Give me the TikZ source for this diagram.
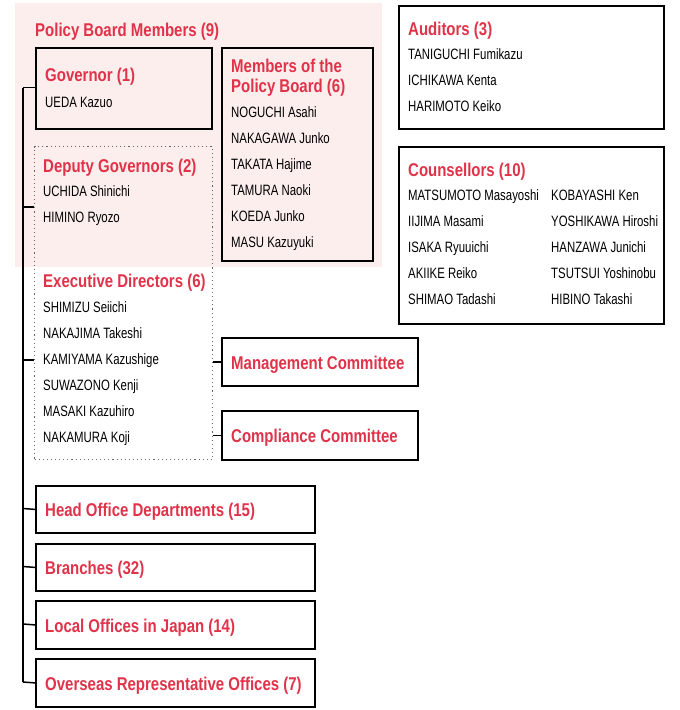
\documentclass[tikz,border=0pt]{standalone}
\usepackage{fontspec}
\setmainfont{Liberation Sans}[FakeStretch=0.81]
\newfontfamily\namefont{Liberation Sans}[FakeStretch=0.76]
\definecolor{bojred}{HTML}{E0334A}
\definecolor{boardpink}{HTML}{FDEEEE}

\begin{document}
\begin{tikzpicture}[x=1pt, y=-1pt,
		box/.style={draw=black, line width=1.8pt, anchor=north west, inner sep=0pt},
		dotbox/.style={draw=black!60, line width=1.1pt, dash pattern=on 1.1pt off 3pt, anchor=north west, inner sep=0pt},
		txt/.style={anchor=base west, inner sep=0pt, font=\namefont\fontsize{15}{18}\selectfont},
		head/.style={anchor=base west, inner sep=0pt, text=bojred, font=\fontsize{18.5}{21}\selectfont\bfseries},
		link/.style={line width=1.5pt}]
				\useasboundingbox (0,0) rectangle (680,710);
				% policy board area
				\fill[boardpink] (15,3) rectangle (382,267);
				\node[head] (pbm) at (35,36) {Policy Board Members (9)};

				% boxes
				\node[box, minimum width=176pt, minimum height=81pt] (gov) at (35,47) {};
				\node[box, minimum width=151pt, minimum height=213pt] (mem) at (221,47) {};
				\node[dotbox, minimum width=178pt, minimum height=313pt] (exe) at (34,146) {};
				\node[box, minimum width=196pt, minimum height=48pt] (mgmt) at (221,337) {};
				\node[box, minimum width=196pt, minimum height=49pt] (comp) at (221,410) {};
				\node[box, minimum width=279pt, minimum height=47pt] (hod) at (35,485) {};
				\node[box, minimum width=279pt, minimum height=47pt] (br) at (35,543) {};
				\node[box, minimum width=279pt, minimum height=48pt] (loc) at (35,600) {};
				\node[box, minimum width=279pt, minimum height=48pt] (ovs) at (35,658) {};
				\node[box, minimum width=265pt, minimum height=123pt] (aud) at (398,5) {};
				\node[box, minimum width=265pt, minimum height=177pt] (cou) at (398,146) {};

				% governor
				\node[head] (govh) at (45,81) {Governor (1)};
				\node[txt] (gov1) at (45,107) {UEDA Kazuo};

				% members of the policy board
				\node[head] (memh1) at (231,72) {Members of the};
				\node[head] (memh2) at (231,92) {Policy Board (6)};
				\node[txt] (mem1) at (231,117) {NOGUCHI Asahi};
				\node[txt] (mem2) at (231,143) {NAKAGAWA Junko};
				\node[txt] (mem3) at (231,169) {TAKATA Hajime};
				\node[txt] (mem4) at (231,195) {TAMURA Naoki};
				\node[txt] (mem5) at (231,221) {KOEDA Junko};
				\node[txt] (mem6) at (231,247) {MASU Kazuyuki};

				% deputy governors and executive directors
				\node[head] (deph) at (43,172) {Deputy Governors (2)};
				\node[txt] (dep1) at (43,196) {UCHIDA Shinichi};
				\node[txt] (dep2) at (43,222) {HIMINO Ryozo};
				\node[head] (exeh) at (43,287) {Executive Directors (6)};
				\node[txt] (exe1) at (43,312) {SHIMIZU Seiichi};
				\node[txt] (exe2) at (43,338) {NAKAJIMA Takeshi};
				\node[txt] (exe3) at (43,364) {KAMIYAMA Kazushige};
				\node[txt] (exe4) at (43,390) {SUWAZONO Kenji};
				\node[txt] (exe5) at (43,416) {MASAKI Kazuhiro};
				\node[txt] (exe6) at (43,442) {NAKAMURA Koji};

				% committees and offices
				\node[head] (mgmth) at (231,369) {Management Committee};
				\node[head] (comph) at (231,442) {Compliance Committee};
				\node[head] (hodh) at (45,516) {Head Office Departments (15)};
				\node[head] (brh) at (45,574) {Branches (32)};
				\node[head] (loch) at (45,632) {Local Offices in Japan (14)};
				\node[head] (ovsh) at (45,690) {Overseas Representative Offices (7)};

				% auditors
				\node[head] (audh) at (408,35) {Auditors (3)};
				\node[txt] (aud1) at (408,59) {TANIGUCHI Fumikazu};
				\node[txt] (aud2) at (408,85) {ICHIKAWA Kenta};
				\node[txt] (aud3) at (408,111) {HARIMOTO Keiko};

				% counsellors
				\node[head] (couh) at (408,176) {Counsellors (10)};
				\node[txt] (cou1) at (408,200) {MATSUMOTO Masayoshi};
				\node[txt] (cou2) at (408,226) {IIJIMA Masami};
				\node[txt] (cou3) at (408,252) {ISAKA Ryuuichi};
				\node[txt] (cou4) at (408,278) {AKIIKE Reiko};
				\node[txt] (cou5) at (408,304) {SHIMAO Tadashi};
				\node[txt] (cou6) at (551,200) {KOBAYASHI Ken};
				\node[txt] (cou7) at (551,226) {YOSHIKAWA Hiroshi};
				\node[txt] (cou8) at (551,252) {HANZAWA Junichi};
				\node[txt] (cou9) at (551,278) {TSUTSUI Yoshinobu};
				\node[txt] (cou10) at (551,304) {HIBINO Takashi};

				% spine
				\coordinate (sGov) at (23,87.5);
				\coordinate (sDep) at (23,207);
				\coordinate (sExe) at (23,360);
				\coordinate (sHod) at (23,508.5);
				\coordinate (sBr) at (23,566.5);
				\coordinate (sLoc) at (23,624);
				\coordinate (sOvs) at (23,682);

				\draw[link] (sGov) -- (sOvs);
				\draw[link] (sGov) -- (sGov -| gov.west);
				\draw[link] (sDep) -- (sDep -| exe.west);
				\draw[link] (sExe) -- (sExe -| exe.west);
				\draw[link] (sHod) -- (hod.west);
				\draw[link] (sBr) -- (br.west);
				\draw[link] (sLoc) -- (loc.west);
				\draw[link] (sOvs) -- (ovs.west);
				\draw[link] (mgmt.west -| exe.east) -- (mgmt.west);
				\draw[link] (comp.west -| exe.east) -- (comp.west);

			\end{tikzpicture}
\end{document}
